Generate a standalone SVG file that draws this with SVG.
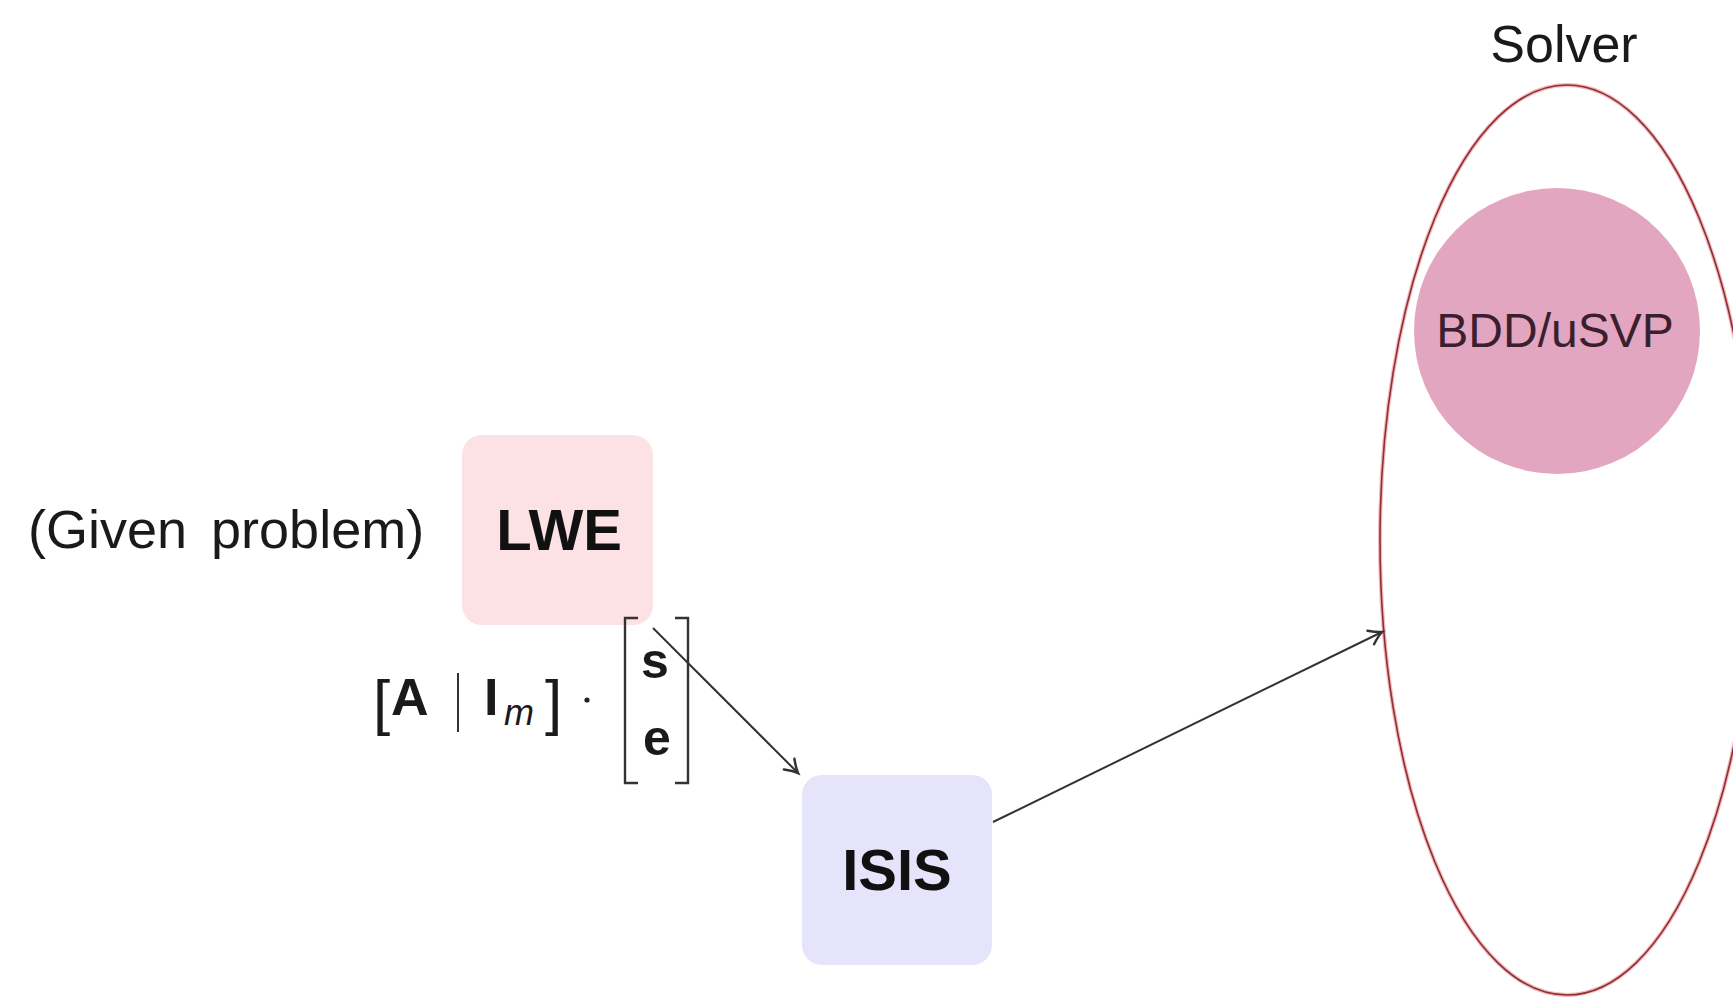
<svg xmlns="http://www.w3.org/2000/svg" width="1733" height="997" viewBox="0 0 1733 997">
  <style>
    .txt { font-family: "Liberation Sans", Arial, sans-serif; fill: #1a1a1a; }
    .bold { font-weight: bold; }
    .box-text { font-family: "Liberation Sans", Arial, sans-serif; font-weight: bold; font-size: 58px; fill: #111; text-anchor: middle; }
    .edge { fill: none; stroke: #333; stroke-width: 2; }
    .bracket { fill: none; stroke: #333; stroke-width: 2.4; }
  </style>
  <defs>
    <marker id="arrowOpen" markerUnits="userSpaceOnUse" markerWidth="20" markerHeight="20" viewBox="-12 -8 14 16" refX="0" refY="0" orient="auto">
      <path d="M -10 -6 Q -4 -1.5 0 0 Q -4 1.5 -10 6" fill="none" stroke="#333" stroke-width="2" stroke-linecap="round"/>
    </marker>
  </defs>

  <rect width="1733" height="997" fill="#ffffff"/>

  <!-- Solver region -->
  <g id="solver">
    <text class="txt" x="1564" y="62" font-size="52" text-anchor="middle" fill="#2b2b2b">Solver</text>
    <ellipse cx="1567" cy="540" rx="187" ry="455" fill="none" stroke="#f2b8bd" stroke-width="4"/>
    <ellipse cx="1567" cy="540" rx="187" ry="455" fill="none" stroke="#8f2f33" stroke-width="1.6"/>
  </g>

  <!-- BDD/uSVP -->
  <g id="bdd-usvp">
    <circle cx="1557" cy="331" r="143" fill="#e3a6c1"/>
    <text class="txt" x="1555" y="347" font-size="48" text-anchor="middle" style="fill:#3b1f2f">BDD/uSVP</text>
  </g>

  <!-- LWE -->
  <g id="lwe">
    <rect x="462" y="435" width="191" height="190" rx="20" fill="#fce2e5"/>
    <text class="box-text" x="559" y="550">LWE</text>
  </g>

  <!-- caption to the left of LWE -->
  <g id="given-problem">
    <text class="txt" x="28" y="548" font-size="54" word-spacing="9" fill="#222">(Given problem)</text>
  </g>

  <!-- ISIS -->
  <g id="isis">
    <rect x="802" y="775" width="190" height="190" rx="20" fill="#e6e4fa"/>
    <text class="box-text" x="897" y="890">ISIS</text>
  </g>

  <!-- equation [A | I_m] · [s; e] -->
  <g id="equation">
    <text class="txt" x="373" y="723" font-size="62">[</text>
    <text class="txt bold" x="391" y="715" font-size="52">A</text>
    <line x1="458" y1="673" x2="458" y2="732" stroke="#333" stroke-width="2"/>
    <text class="txt bold" x="484" y="715" font-size="52">I</text>
    <text class="txt" x="504" y="725" font-size="36" font-style="italic">m</text>
    <text class="txt" x="545" y="723" font-size="62">]</text>
    <circle cx="587" cy="700" r="2.6" fill="#222"/>
    <path class="bracket" d="M 638 618 L 625 618 L 625 783 L 638 783"/>
    <path class="bracket" d="M 675 618 L 688 618 L 688 783 L 675 783"/>
    <text class="txt bold" x="655" y="678" font-size="50" text-anchor="middle">s</text>
    <text class="txt bold" x="657" y="755" font-size="50" text-anchor="middle">e</text>
  </g>

  <!-- connectors -->
  <g id="connectors">
    <line class="edge" x1="653" y1="628" x2="798" y2="773" marker-end="url(#arrowOpen)"/>
    <line class="edge" x1="993" y1="822" x2="1382" y2="632" marker-end="url(#arrowOpen)"/>
  </g>
</svg>
